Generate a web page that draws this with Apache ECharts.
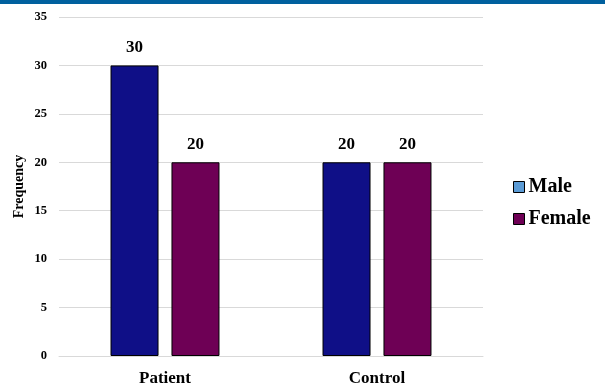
<!DOCTYPE html>
<html>
<head>
<meta charset="utf-8">
<script src="https://cdn.jsdelivr.net/npm/echarts@6/dist/echarts.min.js"></script>
<style>
  html, body { margin: 0; padding: 0; background: #fff; }
  #topbar { position: absolute; left: 0; top: 0; width: 605px; height: 4px; background: #00609E; z-index: 2; }
  #chart { width: 605px; height: 387px; }
</style>
</head>
<body>
<div id="topbar"></div>
<div id="chart"></div>
<script>
const categories = ['Patient', 'Control'];
const maleValues = [30, 20];
const femaleValues = [20, 20];
const yTicks = { min: 0, max: 35, interval: 5 };

const serif = '"Liberation Serif", "Times New Roman", serif';
const chart = echarts.init(document.getElementById('chart'));

const labelStyle = {
  show: true,
  position: 'top',
  distance: 9,
  fontFamily: serif,
  fontWeight: 'bold',
  fontSize: 17,
  color: '#000'
};

chart.setOption({
  animation: false,
  grid: { left: 59, right: 122, top: 17, bottom: 29 },
  legend: {
    orient: 'vertical',
    left: 508,
    top: 172,
    itemWidth: 11,
    itemHeight: 11,
    itemGap: 12,
    textStyle: { fontFamily: serif, fontWeight: 'bold', fontSize: 20, color: '#000', padding: [0, 0, 0, -1] },
    data: [
      { name: 'Male', icon: 'rect', itemStyle: { color: '#5B9BD5', borderColor: '#000', borderWidth: 1 } },
      { name: 'Female', icon: 'rect', itemStyle: { color: '#6E0055', borderColor: '#000', borderWidth: 1 } }
    ]
  },
  xAxis: {
    type: 'category',
    data: categories,
    axisLine: { show: true, lineStyle: { color: '#d9d9d9', width: 1 } },
    axisTick: { show: false },
    axisLabel: { fontFamily: serif, fontWeight: 'bold', fontSize: 17, color: '#000', margin: 14 }
  },
  yAxis: {
    type: 'value',
    min: yTicks.min,
    max: yTicks.max,
    interval: yTicks.interval,
    name: 'Frequency',
    nameLocation: 'middle',
    nameGap: 33,
    nameMoveOverlap: false,
    nameTextStyle: { fontFamily: serif, fontWeight: 'bold', fontSize: 14, color: '#000' },
    axisLine: { show: false },
    axisTick: { show: false },
    splitLine: { lineStyle: { color: '#d9d9d9', width: 1 } },
    axisLabel: { fontFamily: serif, fontWeight: 'bold', fontSize: 12.5, color: '#000', margin: 12 }
  },
  series: [
    {
      name: 'Male',
      type: 'bar',
      data: maleValues,
      barWidth: 48,
      barGap: '27%',
      itemStyle: { color: '#0F0F87', borderColor: '#000', borderWidth: 1 },
      label: labelStyle
    },
    {
      name: 'Female',
      type: 'bar',
      data: femaleValues,
      barWidth: 48,
      itemStyle: { color: '#6E0055', borderColor: '#000', borderWidth: 1 },
      label: labelStyle
    }
  ]
});
</script>
</body>
</html>
